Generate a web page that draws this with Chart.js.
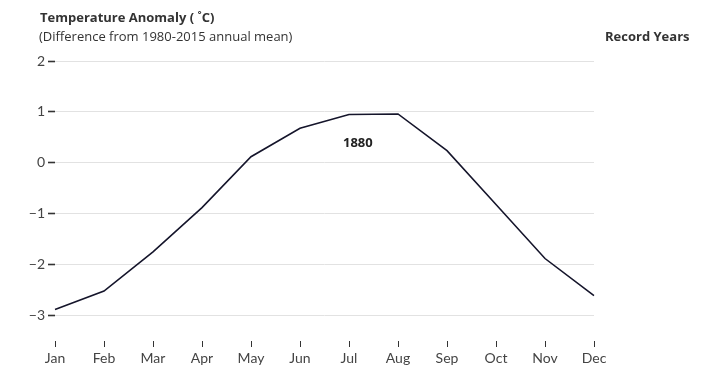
<!DOCTYPE html>
<html>
<head>
<meta charset="utf-8">
<script src="https://cdn.jsdelivr.net/npm/chart.js@4"></script>
<style>
  body { margin: 0; background: #fff; }
  #wrap { width: 720px; height: 377px; }
</style>
</head>
<body>
<div id="wrap"><canvas id="myChart" width="720" height="377"></canvas></div>
<script>
// Data
let months = ['Jan', 'Feb', 'Mar', 'Apr', 'May', 'Jun', 'Jul', 'Aug', 'Sep', 'Oct', 'Nov', 'Dec'];
let anomaly1880 = [-2.88, -2.52, -1.75, -0.88, 0.12, 0.68, 0.95, 0.96, 0.24, -0.82, -1.88, -2.61];
let yTicks = [-3, -2, -1, 0, 1, 2];
let recordYear = '1880';

let fontName = 'Lato, "Open Sans", sans-serif';
let titleFont = '"Open Sans", Lato, sans-serif';

// Titles and the year label, drawn on the canvas
let textPlugin = {
    id: 'textPlugin',
    afterDraw(chart) {
        let ctx = chart.ctx;
        ctx.save();
        ctx.textBaseline = 'middle';
        ctx.fillStyle = '#333';
        ctx.textAlign = 'left';
        ctx.font = 'bold 13px ' + titleFont;
        ctx.fillText('Temperature Anomaly ( \u02DAC)', 40, 18);
        ctx.font = '13px ' + titleFont;
        ctx.fillText('(Difference from 1980-2015 annual mean)', 39, 37);
        ctx.font = 'bold 13px ' + titleFont;
        ctx.fillText('Record Years', 605, 37);

        let x = chart.scales.x.getPixelForValue(6.18);
        let y = chart.scales.y.getPixelForValue(0.38);
        ctx.textAlign = 'center';
        ctx.fillStyle = '#222';
        ctx.font = 'bold 13px ' + titleFont;
        ctx.fillText(recordYear, x, y);
        ctx.restore();
    }
};

new Chart(document.getElementById('myChart').getContext('2d'), {
    type: 'line',
    data: {
        labels: months,
        datasets: [{
            label: recordYear,
            data: anomaly1880,
            borderColor: '#15152b',
            borderWidth: 1.6,
            pointRadius: 0,
            tension: 0,
            fill: false
        }]
    },
    options: {
        responsive: false,
        animation: false,
        layout: { padding: { top: 61, right: 126, bottom: 0, left: 0 } },
        plugins: {
            legend: { display: false },
            tooltip: { enabled: false }
        },
        scales: {
            x: {
                offset: false,
                border: { display: false },
                grid: {
                    drawOnChartArea: false,
                    tickLength: 6,
                    tickColor: '#333',
                    tickWidth: 1
                },
                ticks: {
                    color: '#444',
                    font: { family: fontName, size: 14 },
                    padding: 3,
                    maxRotation: 0
                },
                afterFit(scale) { scale.height = 36; }
            },
            y: {
                min: -3.5,
                max: 2,
                border: { display: false },
                grid: {
                    color: '#e2e2e2',
                    lineWidth: 1,
                    tickLength: 7,
                    tickColor: '#333',
                    tickWidth: 1.6
                },
                ticks: {
                    color: '#444',
                    font: { family: fontName, size: 14 },
                    padding: 3,
                    callback: v => String(v).replace('-', '\u2212')
                },
                afterBuildTicks(scale) {
                    scale.ticks = yTicks.map(v => ({ value: v }));
                },
                afterFit(scale) { scale.width = 55; }
            }
        }
    },
    plugins: [textPlugin]
});
</script>
</body>
</html>
